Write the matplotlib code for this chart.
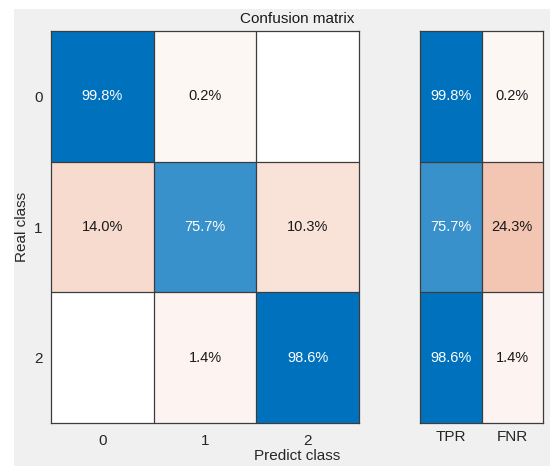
import numpy as np
import matplotlib
matplotlib.use("Agg")
import matplotlib.pyplot as plt
from matplotlib.colors import LinearSegmentedColormap, Normalize
from matplotlib.patches import Rectangle

plt.rcParams['font.family'] = ['Liberation Sans', 'DejaVu Sans']

# row-normalised confusion matrix (%), NaN = empty cell
classes = ["0", "1", "2"]
cm = np.array([
    [99.8, 0.2, np.nan],
    [14.0, 75.7, 10.3],
    [np.nan, 1.4, 98.6],
])
tpr = [99.8, 75.7, 98.6]
fnr = [0.2, 24.3, 1.4]
rate_labels = ["TPR", "FNR"]

blue_map = LinearSegmentedColormap.from_list("blu", ["#ffffff", "#0072bd"])
orange_map = LinearSegmentedColormap.from_list("org", ["#ffffff", "#d95319"])
blue_norm = Normalize(vmin=0, vmax=97, clip=True)
orange_norm = Normalize(vmin=-4, vmax=82, clip=True)
edge = "#3c3c3c"
txt = "#262626"

fig = plt.figure(figsize=(5.5, 4.66), dpi=100, facecolor="white")
fig.patches.append(Rectangle((14 / 550, 0), 1, 1 - 9 / 466, transform=fig.transFigure,
                             facecolor="#f0f0f0", edgecolor="none", zorder=-10))


def draw_cells(ax, data, diag_mask):
    n_rows, n_cols = data.shape
    on = np.ma.masked_where(~diag_mask | np.isnan(data), data)
    off = np.ma.masked_where(diag_mask | np.isnan(data), data)
    ax.set_facecolor("white")
    ax.pcolormesh(np.arange(n_cols + 1) - 0.5, np.arange(n_rows + 1) - 0.5, on,
                  cmap=blue_map, norm=blue_norm, edgecolors="none")
    ax.pcolormesh(np.arange(n_cols + 1) - 0.5, np.arange(n_rows + 1) - 0.5, off,
                  cmap=orange_map, norm=orange_norm, edgecolors="none")
    for k in range(1, n_cols):
        ax.axvline(k - 0.5, color=edge, lw=0.9)
    for k in range(1, n_rows):
        ax.axhline(k - 0.5, color=edge, lw=0.9)
    for i in range(n_rows):
        for j in range(n_cols):
            v = data[i, j]
            if np.isnan(v):
                continue
            col = "white" if diag_mask[i, j] and v > 50 else "#1a1a1a"
            ax.text(j, i, f"{v:.1f}%", ha="center", va="center", fontsize=10.5, color=col)
    ax.set_xlim(-0.5, n_cols - 0.5)
    ax.set_ylim(n_rows - 0.5, -0.5)
    for s in ax.spines.values():
        s.set_color(edge)
        s.set_linewidth(0.9)
    ax.tick_params(length=0, labelsize=11, colors=txt, pad=8)


# main matrix
ax = fig.add_axes([51 / 550, 1 - 423 / 466, 308 / 550, 392 / 466])
draw_cells(ax, cm, np.eye(3, dtype=bool))
ax.set_xticks(range(3))
ax.set_xticklabels(classes)
ax.set_yticks(range(3))
ax.set_yticklabels(classes)
ax.tick_params(axis="y", pad=6)
ax.set_ylabel("Real class", fontsize=11, color=txt, labelpad=4)

# per-class rates
rates = np.column_stack([tpr, fnr])
rate_mask = np.zeros_like(rates, dtype=bool)
rate_mask[:, 0] = True
ax2 = fig.add_axes([420 / 550, 1 - 423 / 466, 123 / 550, 392 / 466])
draw_cells(ax2, rates, rate_mask)
ax2.set_xticks(range(2))
ax2.set_xticklabels(rate_labels)
ax2.set_yticks([])
ax2.tick_params(axis="x", pad=5)

fig.text(297 / 550, 1 - 19 / 466, "Confusion matrix", ha="center", va="center",
         fontsize=11, color="#1a1a1a")
fig.text(297 / 550, 1 - 456 / 466, "Predict class", ha="center", va="center",
         fontsize=11, color=txt)

fig.savefig("out.png", dpi=100, facecolor=fig.get_facecolor())
